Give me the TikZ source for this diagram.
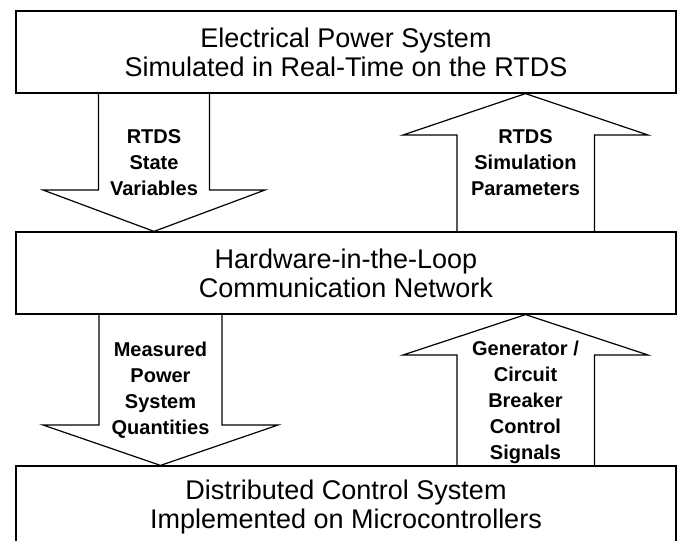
\documentclass[tikz,border=0pt]{standalone}
\usepackage{fontspec}
\setmainfont{Liberation Sans}
\begin{document}
\begin{tikzpicture}[x=1pt,y=-1pt,line width=1.2pt,
  box/.style={draw,minimum width=660pt,minimum height=82pt,inner sep=0pt,align=center,font=\fontsize{27}{29}\selectfont},
  lbl/.style={align=center,inner sep=0pt,font=\fontsize{20}{26}\selectfont\bfseries},
  blk/.style={draw,line join=miter}]
\useasboundingbox (0,0) rectangle (678,541);
\node[box] (eps) at (346,52) {Electrical Power System\\Simulated in Real-Time on the RTDS};
\node[box] (hil) at (346,273) {Hardware-in-the-Loop\\Communication Network};
\node[box] (dcs) at (346,507) {Distributed Control System\\Implemented on Microcontrollers};
% block arrows between the boxes
\draw[blk] (eps.south -| 98.5,0) -- (98.5,190) -- (43,190) -- (hil.north -| 154,0) -- (265,190) -- (209.5,190) -- (eps.south -| 209.5,0);
\draw[blk] (hil.north -| 457,0) -- (457,135) -- (403,135) -- (eps.south -| 525.5,0) -- (648,135) -- (594.5,135) -- (hil.north -| 594.5,0);
\draw[blk] (hil.south -| 99,0) -- (99,425) -- (43,425) -- (dcs.north -| 160.5,0) -- (278,425) -- (222,425) -- (hil.south -| 222,0);
\draw[blk] (dcs.north -| 457,0) -- (457,355) -- (403,355) -- (hil.south -| 525.5,0) -- (648,355) -- (594.5,355) -- (dcs.north -| 594.5,0);
\node[lbl] (sv) at (154,163) {RTDS\\State\\Variables};
\node[lbl] (sp) at (525.5,163) {RTDS\\Simulation\\Parameters};
\node[lbl] (mq) at (160.5,390) {Measured\\Power\\System\\Quantities};
\node[lbl] (cs) at (525.5,402) {Generator /\\Circuit\\Breaker\\Control\\Signals};
\end{tikzpicture}
\end{document}
